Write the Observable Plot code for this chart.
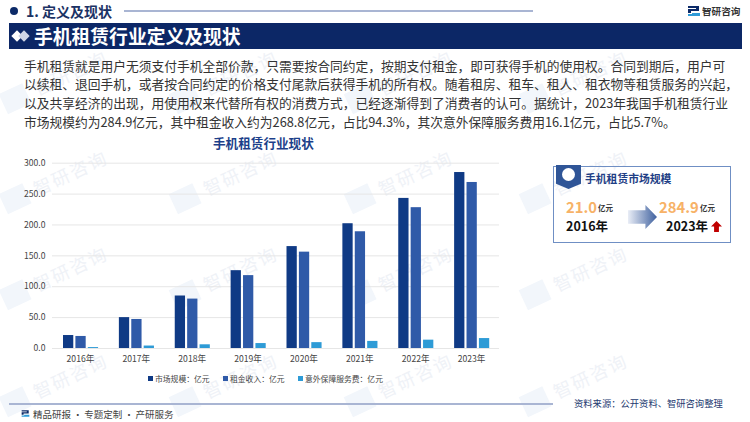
<!DOCTYPE html>
<html><head><meta charset="utf-8">
<script src="https://cdn.jsdelivr.net/npm/d3@7"></script>
<script src="https://cdn.jsdelivr.net/npm/@observablehq/plot@0.6"></script>
<style>
html,body{margin:0;padding:0;background:#fff}
body{width:750px;height:422px;position:relative;overflow:hidden;font-family:"Noto Sans CJK SC","Noto Sans",sans-serif}
.a{position:absolute;white-space:nowrap}
#wm{position:absolute;left:0;top:0;width:750px;height:422px;overflow:hidden}
.wm{position:absolute;color:#eff2f7;font-size:18px;letter-spacing:2px;line-height:24px;transform:rotate(-25deg);white-space:nowrap;font-weight:400}
.wm::before{content:"";position:absolute;left:-34px;top:2px;width:26px;height:22px;background:#f2f6fb}
#para{left:24px;top:56.5px;font-size:12.75px;line-height:18.9px;color:#333}
#chart{left:0;top:150px}
#chart svg{background:transparent;overflow:visible}
.lg{top:373px;font-size:7.8px;color:#444}
.lg i{display:inline-block;width:5px;height:5px;margin-right:2px;vertical-align:1px}
</style></head><body>
<div id="wm"></div>

<div class="a" style="left:10px;top:7px;width:8px;height:8px;border-radius:50%;background:#0c2a68"></div>
<div class="a" style="left:26px;top:1px;font-size:14px;font-weight:700;color:#1b3264;line-height:20px">1. 定义及现状</div>
<div class="a" style="left:124px;top:10px;width:409px;height:2px;background:#a9b5d3"></div>
<svg class="a" style="left:687px;top:4px" width="14" height="14" viewBox="0 0 14 14"><path d="M1 2h11v5H4v2H1V5h8V4H1z" fill="#0c2a68"/><path d="M5 9h8v3H1v-2h4z" fill="#2f9bd8"/></svg>
<div class="a" style="left:702px;top:1px;font-size:9.6px;font-weight:700;color:#333;line-height:20px">智研咨询</div>

<div class="a" style="left:9px;top:23px;width:733px;height:26px;background:#0c2766"></div>
<div class="a" style="left:13px;top:32px;width:8px;height:8px;background:#fff;transform:rotate(45deg)"></div>
<div class="a" style="left:20px;top:32px;width:8px;height:8px;background:#cfd6e6;transform:rotate(45deg)"></div>
<div class="a" style="left:34px;top:23px;font-size:18.8px;font-weight:700;color:#fff;line-height:26px">手机租赁行业定义及现状</div>

<div class="a" id="para">手机租赁就是用户无须支付手机全部价款，只需要按合同约定，按期支付租金，即可获得手机的使用权。合同到期后，用户可<br>以续租、退回手机，或者按合同约定的价格支付尾款后获得手机的所有权。随着租房、租车、租人、租衣物等租赁服务的兴起，<br>以及共享经济的出现，用使用权来代替所有权的消费方式，已经逐渐得到了消费者的认可。据统计，2023年我国手机租赁行业<br>市场规模约为284.9亿元，其中租金收入约为268.8亿元，占比94.3%，其次意外保障服务费用16.1亿元，占比5.7%。</div>

<div class="a" style="left:213px;top:134px;font-size:12.6px;font-weight:700;color:#1c3f8a;line-height:18px">手机租赁行业现状</div>
<div class="a" id="chart"></div>

<div class="a lg" style="left:148px"><i style="background:#0f3a85"></i>市场规模：亿元</div>
<div class="a lg" style="left:223px"><i style="background:#2f5aa8"></i>租金收入：亿元</div>
<div class="a lg" style="left:298px"><i style="background:#2e9bd6"></i>意外保障服务费：亿元</div>

<div class="a" style="left:553px;top:166px;width:176px;height:75px;border:1px solid #6f8fc4;box-sizing:content-box"></div>
<div class="a" style="left:556px;top:165px;width:25px;height:24px;background:#2f5597;clip-path:polygon(0 0,100% 0,100% 78%,50% 100%,0 78%)"></div>
<div class="a" style="left:562px;top:168px;width:13px;height:13px;border-radius:50%;background:#fff"></div>
<div class="a" style="left:585px;top:167px;font-size:10.8px;font-weight:700;color:#1f3f86;line-height:22px">手机租赁市场规模</div>
<div class="a" style="left:566px;top:196px;font-size:14.8px;font-weight:700;color:#f7b267;line-height:22px">21.0</div>
<div class="a" style="left:598px;top:201px;font-size:7.5px;font-weight:700;color:#333;line-height:14px">亿元</div>
<div class="a" style="left:566px;top:216px;font-size:12.5px;font-weight:700;color:#111;line-height:20px">2016年</div>
<div class="a" style="left:628px;top:205px;width:29px;height:24px;background:linear-gradient(90deg,#e9edf6,#3f619f);clip-path:polygon(0 22%,60% 22%,60% 0,100% 50%,60% 100%,60% 78%,0 78%)"></div>
<div class="a" style="left:659px;top:196px;font-size:14.8px;font-weight:700;color:#f7b267;line-height:22px">284.9</div>
<div class="a" style="left:700px;top:201px;font-size:7.5px;font-weight:700;color:#333;line-height:14px">亿元</div>
<div class="a" style="left:666px;top:216px;font-size:12.5px;font-weight:700;color:#111;line-height:20px">2023年</div>
<div class="a" style="left:711px;top:221px;width:11px;height:11px;background:#c00000;clip-path:polygon(50% 0,100% 50%,72% 50%,72% 100%,28% 100%,28% 50%,0 50%)"></div>

<div class="a" style="left:9px;top:403px;width:544px;height:2px;background:#a9b5d3"></div>
<svg class="a" style="left:21px;top:409px" width="9" height="9" viewBox="0 0 14 14"><path d="M1 2h11v5H4v2H1V5h8V4H1z" fill="#0c2a68"/><path d="M5 9h8v3H1v-2h4z" fill="#2f9bd8"/></svg>
<div class="a" style="left:33px;top:407px;font-size:9.5px;color:#444;line-height:14px">精品研报&#8201;·&#8201;专题定制&#8201;·&#8201;产研服务</div>
<div class="a" style="left:574px;top:396px;font-size:9.3px;color:#23396f;line-height:14px">资料来源：公开资料、智研咨询整理</div>

<script>
const years = ["2016年","2017年","2018年","2019年","2020年","2021年","2022年","2023年"];
const marketSize = [21.0,50,85,126,165,202,243,284.9];
const rentIncome = [19.5,47,80,118,156,189,228,268.8];
const insuranceFee = [1.5,4,6,8,9.5,11.5,13.5,16.1];
const seriesColors = ["#0f3a85","#2f5aa8","#2e9bd6"];
const yTicks = [0,50,100,150,200,250,300];

const wmEl = document.getElementById("wm");
const wmRows = [[60,[30,200,375,550]],[160,[30,200,375,550]],[256,[30,200,375,550]],[363,[30,200,375,550]]];
for (const [t, xs] of wmRows) for (const l of xs) {
  const d = document.createElement("div"); d.className = "wm"; d.textContent = "智研咨询";
  d.style.left = l + "px"; d.style.top = t + "px"; wmEl.appendChild(d);
}

const barOpts = (values, i) => Plot.barY(years,{
  x:d=>d, y:(d,j)=>values[j], fill:seriesColors[i],
  insetLeft:22.8, insetRight:22.8, dx:0.6+(i-1)*12.4
});

const plot = Plot.plot({
  width:520, height:240,
  marginTop:12.7, marginBottom:42, marginLeft:52, marginRight:21,
  style:{background:"transparent",fontFamily:'"Noto Sans CJK SC","Liberation Sans",sans-serif'},
  x:{domain:years, padding:0, round:false, label:null, axis:null},
  y:{domain:[0,300], label:null, axis:null},
  marks:[
    Plot.gridY(yTicks,{stroke:"#e6e6e6",strokeOpacity:1,strokeWidth:1}),
    Plot.axisY(yTicks,{tickFormat:d=>d.toFixed(1),tickSize:0,tickPadding:7,fontSize:8.6,fill:"#444",label:null}),
    barOpts(marketSize,0),
    barOpts(rentIncome,1),
    barOpts(insuranceFee,2),
    Plot.axisX(years,{tickSize:0,tickPadding:7,fontSize:8.6,fill:"#444",label:null})
  ]
});
document.getElementById("chart").appendChild(plot);
</script>
</body></html>
